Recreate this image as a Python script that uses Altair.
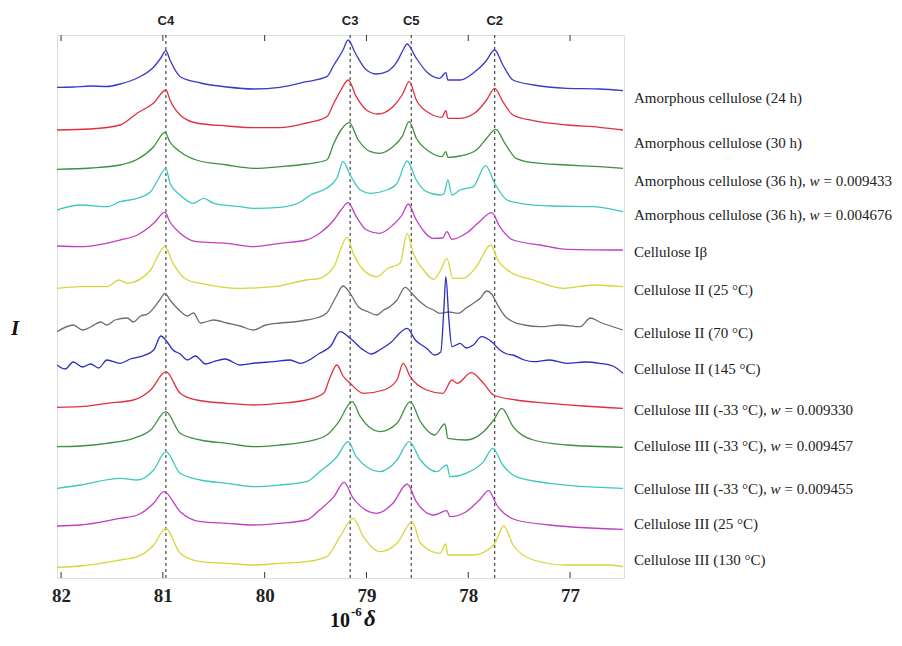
import altair as alt
import pandas as pd

# ---------------- data ----------------
SERIES = [
    "Amorphous cellulose (24 h)",
    "Amorphous cellulose (30 h)",
    "Amorphous cellulose (36 h), w = 0.009433",
    "Amorphous cellulose (36 h), w = 0.004676",
    "Cellulose Iβ",
    "Cellulose II (25 °C)",
    "Cellulose II (70 °C)",
    "Cellulose II (145 °C)",
    "Cellulose III (-33 °C), w = 0.009330",
    "Cellulose III (-33 °C), w = 0.009457",
    "Cellulose III (-33 °C), w = 0.009455",
    "Cellulose III (25 °C)",
    "Cellulose III (130 °C)",
]
LABEL_PREFIX = [
    "Amorphous cellulose (24 h)",
    "Amorphous cellulose (30 h)",
    "Amorphous cellulose (36 h), ",
    "Amorphous cellulose (36 h), ",
    "Cellulose Iβ",
    "Cellulose II (25 °C)",
    "Cellulose II (70 °C)",
    "Cellulose II (145 °C)",
    "Cellulose III (-33 °C), ",
    "Cellulose III (-33 °C), ",
    "Cellulose III (-33 °C), ",
    "Cellulose III (25 °C)",
    "Cellulose III (130 °C)",
]
W_VALUES = ["", "", "0.009433", "0.004676", "", "", "", "",
            "0.009330", "0.009457", "0.009455", "", ""]
LABEL_LEVEL = [480, 435, 397, 363, 326, 288, 245, 209, 168, 132, 89, 54, 18]

COLORS = ["#3a3ac8", "#e0303c", "#3f8f3f", "#3cc8c0", "#c23fc2", "#d6d63a",
          "#6e6e6e", "#2d2dc0", "#e0303c", "#3f8f3f", "#3cc8c0", "#c23fc2", "#d6d63a"]

PEAK_NAMES = ["C4", "C3", "C5", "C2"]
PEAK_PPM = [80.97, 79.16, 78.56, 77.74]
TICKS = [82, 81, 80, 79, 78, 77]

X1 = [82.04, 81.88, 81.71, 81.55, 81.42, 81.25, 81.09, 81.02, 80.97, 80.93, 80.83, 80.63, 80.37, 80.11,
      79.85, 79.59, 79.39, 79.32, 79.23, 79.18, 79.11, 79.00, 78.90, 78.80, 78.70, 78.64, 78.60, 78.52,
      78.41, 78.28, 78.22, 78.20, 78.08, 77.95, 77.83, 77.74, 77.66, 77.56, 77.36, 77.03, 76.71, 76.48]
Y1 = [490.7, 491.0, 492.0, 491.5, 494.0, 500.0, 511.0, 520.0, 527.3, 518.0, 501.3, 495.0, 491.0, 489.0,
      490.7, 496.3, 501.3, 513.0, 528.0, 538.0, 525.0, 508.0, 504.0, 506.3, 516.3, 528.0, 534.0, 521.3,
      506.3, 499.7, 505.3, 498.0, 498.0, 505.0, 516.3, 528.0, 513.0, 498.0, 493.0, 489.7, 489.0, 487.3]

X2 = [82.04, 81.71, 81.42, 81.25, 81.09, 80.97, 80.93, 80.83, 80.67, 80.37, 80.11, 79.85, 79.59, 79.39,
      79.32, 79.25, 79.18, 79.10, 79.00, 78.89, 78.74, 78.65, 78.58, 78.51, 78.38, 78.26, 78.22, 78.20,
      78.08, 77.92, 77.82, 77.74, 77.66, 77.56, 77.36, 77.03, 76.71, 76.48]
Y2 = [448.0, 449.0, 453.0, 465.0, 475.0, 488.0, 478.0, 463.0, 455.0, 452.0, 450.3, 450.3, 455.0, 461.3,
      475.0, 488.0, 498.0, 481.3, 468.0, 464.0, 471.3, 483.0, 496.3, 478.0, 464.7, 460.7, 467.3, 459.7,
      459.7, 466.3, 478.0, 489.7, 476.3, 463.0, 457.3, 453.0, 450.7, 448.0]

X3 = [82.04, 81.71, 81.42, 81.25, 81.09, 80.98, 80.93, 80.83, 80.67, 80.37, 80.11, 79.85, 79.59, 79.39,
      79.32, 79.25, 79.17, 79.08, 78.96, 78.87, 78.74, 78.65, 78.58, 78.51, 78.38, 78.26, 78.22, 78.20,
      78.08, 77.92, 77.82, 77.73, 77.64, 77.53, 77.36, 77.03, 76.71, 76.48]
Y3 = [408.7, 410.0, 413.0, 418.7, 431.3, 445.7, 436.0, 426.3, 418.0, 413.0, 409.7, 411.3, 414.0, 418.0,
      434.7, 448.0, 455.3, 438.0, 426.3, 424.7, 431.3, 441.3, 456.3, 439.7, 426.3, 421.3, 426.3, 420.7,
      422.0, 428.0, 439.7, 448.7, 434.7, 419.7, 415.3, 413.0, 411.3, 409.7]

X4 = [82.04, 81.81, 81.55, 81.42, 81.25, 81.12, 81.05, 80.97, 80.93, 80.83, 80.70, 80.60, 80.50, 80.24,
      80.11, 79.85, 79.65, 79.55, 79.39, 79.29, 79.23, 79.16, 79.06, 78.96, 78.80, 78.70, 78.60, 78.51,
      78.41, 78.28, 78.24, 78.20, 78.16, 78.08, 77.95, 77.83, 77.74, 77.62, 77.49, 77.17, 76.77, 76.48]
Y4 = [368.0, 373.0, 371.3, 376.3, 379.7, 386.3, 398.0, 409.7, 394.7, 383.0, 374.7, 379.7, 374.7, 371.3,
      369.7, 370.7, 376.0, 383.0, 390.0, 400.0, 416.3, 403.0, 388.0, 384.7, 388.0, 394.7, 417.0, 398.0,
      386.3, 383.0, 384.0, 398.0, 383.0, 388.0, 391.3, 412.3, 394.7, 378.0, 374.7, 372.0, 371.3, 366.3]

X5 = [82.04, 81.81, 81.42, 81.25, 81.09, 80.98, 80.93, 80.83, 80.67, 80.37, 80.11, 79.85, 79.59, 79.46,
      79.32, 79.25, 79.18, 79.10, 79.00, 78.87, 78.74, 78.65, 78.59, 78.51, 78.34, 78.25, 78.21, 78.16,
      78.02, 77.89, 77.77, 77.69, 77.56, 77.29, 77.03, 76.48]
Y5 = [332.0, 331.3, 338.0, 343.0, 354.7, 365.7, 356.0, 344.7, 336.3, 334.7, 331.3, 334.7, 338.0, 344.7,
      358.0, 368.0, 375.3, 361.3, 348.0, 344.7, 353.0, 363.0, 374.0, 358.0, 339.7, 340.0, 346.3, 338.7,
      344.7, 356.3, 365.3, 351.3, 338.0, 333.0, 328.7, 328.0]

X6 = [82.04, 81.81, 81.55, 81.43, 81.35, 81.12, 81.07, 80.98, 80.90, 80.76, 80.63, 80.24, 79.91, 79.59,
      79.46, 79.32, 79.19, 79.13, 79.03, 78.90, 78.79, 78.67, 78.60, 78.54, 78.44, 78.34, 78.27, 78.21,
      78.15, 78.05, 77.92, 77.78, 77.71, 77.59, 77.36, 77.07, 76.77, 76.48]
Y6 = [289.7, 291.3, 291.3, 298.0, 294.7, 308.0, 318.0, 331.3, 314.7, 298.0, 294.7, 289.7, 291.3, 298.0,
      299.7, 311.3, 340.7, 324.7, 308.0, 301.3, 309.7, 314.7, 344.7, 324.7, 308.0, 298.7, 308.0, 319.7,
      299.7, 299.7, 311.3, 333.0, 318.0, 306.3, 298.0, 289.7, 293.0, 291.3]

X7 = [82.04, 81.88, 81.79, 81.71, 81.61, 81.55, 81.47, 81.35, 81.29, 81.22, 81.15, 81.09, 81.03, 80.98,
      80.93, 80.88, 80.82, 80.76, 80.70, 80.63, 80.50, 80.37, 80.24, 80.11, 79.99, 79.85, 79.72, 79.59,
      79.49, 79.39, 79.30, 79.23, 79.16, 79.08, 78.98, 78.90, 78.83, 78.77, 78.70, 78.62, 78.54, 78.47,
      78.41, 78.34, 78.28, 78.19, 78.10, 78.02, 77.95, 77.88, 77.82, 77.77, 77.72, 77.64, 77.56, 77.45,
      77.29, 77.10, 76.90, 76.80, 76.71, 76.48]
Y7 = [246.3, 253.0, 248.0, 251.0, 256.0, 253.0, 258.0, 260.0, 256.0, 262.0, 264.0, 270.0, 278.0, 284.7,
      278.0, 272.0, 266.0, 262.0, 265.0, 255.0, 258.0, 255.0, 252.0, 248.0, 253.0, 255.0, 256.0, 258.0,
      260.0, 265.0, 281.0, 292.0, 284.7, 271.3, 266.0, 263.0, 268.0, 271.3, 278.0, 290.7, 283.0, 276.0,
      271.3, 268.0, 264.7, 266.0, 264.7, 270.0, 274.7, 280.0, 287.0, 284.0, 274.7, 262.0, 256.3, 253.0,
      251.3, 253.0, 251.3, 260.0, 256.0, 248.0]

X8 = [82.04, 81.96, 81.88, 81.79, 81.71, 81.63, 81.55, 81.42, 81.32, 81.22, 81.09, 81.02, 80.96, 80.90,
      80.83, 80.76, 80.68, 80.58, 80.50, 80.39, 80.24, 80.09, 79.91, 79.75, 79.65, 79.46, 79.35, 79.26,
      79.16, 79.03, 78.95, 78.87, 78.77, 78.60, 78.52, 78.41, 78.33, 78.27, 78.24, 78.22, 78.19, 78.16,
      78.08, 78.02, 77.95, 77.87, 77.77, 77.69, 77.62, 77.56, 77.45, 77.36, 77.20, 77.03, 76.85, 76.71,
      76.58, 76.48]
Y8 = [213.0, 209.0, 216.0, 211.0, 214.0, 210.0, 218.0, 214.7, 219.0, 221.3, 228.0, 242.0, 236.3, 228.0,
      224.0, 218.0, 222.0, 214.0, 216.3, 219.0, 213.0, 215.0, 216.3, 218.0, 214.7, 224.7, 232.0, 246.3,
      239.7, 228.0, 224.0, 228.0, 234.7, 249.7, 238.0, 229.7, 223.0, 226.0, 268.0, 301.3, 258.0, 231.3,
      234.7, 230.0, 233.0, 241.3, 236.3, 228.0, 224.0, 223.0, 218.0, 216.3, 218.0, 214.7, 216.0, 214.7,
      212.0, 204.7]

X9 = [82.04, 81.81, 81.55, 81.29, 81.12, 80.97, 80.83, 80.67, 80.37, 80.11, 79.85, 79.59, 79.42, 79.36,
      79.29, 79.23, 79.16, 79.03, 78.83, 78.70, 78.64, 78.57, 78.41, 78.25, 78.16, 78.11, 77.97, 77.85,
      77.75, 77.53, 77.20, 76.87, 76.48]
Y9 = [170.7, 171.3, 174.7, 178.0, 188.0, 206.3, 184.7, 178.0, 174.7, 173.0, 174.7, 178.0, 184.7, 200.0,
      213.0, 202.0, 194.7, 184.7, 188.0, 198.0, 214.7, 201.3, 188.0, 184.7, 198.0, 194.7, 205.3, 194.7,
      183.0, 178.0, 174.7, 172.0, 169.7]

X10 = [82.04, 81.81, 81.55, 81.29, 81.12, 80.97, 80.83, 80.63, 80.37, 80.11, 79.85, 79.59, 79.39, 79.28,
       79.14, 79.06, 78.87, 78.70, 78.57, 78.47, 78.33, 78.23, 78.20, 78.02, 77.85, 77.75, 77.67, 77.56,
       77.36, 77.03, 76.48]
Y10 = [131.3, 132.0, 134.7, 139.7, 148.0, 166.3, 144.7, 138.0, 134.7, 131.3, 133.0, 136.3, 143.0, 155.0,
       176.3, 161.3, 146.3, 154.7, 176.3, 156.3, 143.0, 154.0, 139.7, 138.0, 146.3, 158.0, 169.7, 151.3,
       138.0, 133.0, 130.7]

X11 = [82.04, 81.81, 81.42, 81.25, 81.09, 80.97, 80.83, 80.63, 80.37, 80.11, 79.85, 79.59, 79.46, 79.29,
       79.18, 79.10, 78.87, 78.70, 78.58, 78.47, 78.31, 78.21, 78.18, 78.02, 77.85, 77.76, 77.66, 77.53,
       77.20, 76.48]
Y11 = [89.7, 93.0, 99.7, 98.0, 108.0, 126.3, 104.7, 98.0, 94.7, 91.3, 93.0, 96.3, 106.3, 121.3,
       136.3, 121.3, 106.3, 118.0, 136.3, 118.0, 106.3, 113.0, 101.3, 104.7, 116.3, 129.7, 113.0, 101.3,
       94.7, 89.7]

X12 = [82.04, 81.81, 81.42, 81.25, 81.09, 80.99, 80.83, 80.63, 80.37, 80.11, 79.85, 79.59, 79.46, 79.32,
       79.22, 79.13, 78.90, 78.74, 78.60, 78.51, 78.34, 78.21, 78.18, 78.02, 77.89, 77.80, 77.72, 77.53,
       77.20, 76.48]
Y12 = [52.0, 53.0, 59.7, 63.0, 74.7, 86.3, 66.3, 56.3, 54.7, 53.0, 54.7, 58.0, 68.0, 81.3,
       95.7, 79.7, 64.7, 74.7, 94.0, 76.3, 63.0, 67.3, 61.3, 66.3, 78.0, 87.3, 73.0, 58.0,
       53.0, 48.7]

X13 = [82.04, 81.81, 81.42, 81.25, 81.09, 80.97, 80.83, 80.63, 80.37, 80.11, 79.85, 79.59, 79.39, 79.26,
       79.13, 79.03, 78.87, 78.70, 78.55, 78.47, 78.28, 78.22, 78.20, 77.95, 77.75, 77.65, 77.56, 77.36,
       77.03, 76.61, 76.48]
Y13 = [10.7, 12.0, 18.0, 21.3, 33.0, 49.7, 24.7, 16.3, 14.7, 13.0, 14.7, 16.3, 21.3, 41.3,
       59.7, 41.3, 26.3, 34.7, 56.3, 34.7, 24.7, 34.0, 23.0, 23.0, 33.0, 52.0, 33.0, 18.0,
       13.0, 13.0, 11.3]

XS = [X1, X2, X3, X4, X5, X6, X7, X8, X9, X10, X11, X12, X13]
YS = [Y1, Y2, Y3, Y4, Y5, Y6, Y7, Y8, Y9, Y10, Y11, Y12, Y13]

# ---------------- tables ----------------
rows = []
for name, xs, ys in zip(SERIES, XS, YS):
    for j, (x, y) in enumerate(zip(xs, ys)):
        rows.append({"series": name, "ppm": x, "I": y, "idx": j})
df = pd.DataFrame(rows)

W, H = 567, 543
FS = 15
LX = W + 10  # left edge of the right-hand labels (px, plot coords)
W_OFFSET = {"Amorphous cellulose (36 h), ": 175.5, "Cellulose III (-33 °C), ": 136.5}

lab_rows = []
for pre, wv, lv in zip(LABEL_PREFIX, W_VALUES, LABEL_LEVEL):
    off = W_OFFSET.get(pre, 0)
    lab_rows.append({"pre": pre, "w": "w" if wv else "", "eq": ("= " + wv) if wv else "",
                     "lv": lv, "x0": LX, "xw": LX + off, "xe": LX + off + 14})
labs = pd.DataFrame(lab_rows)

peaks = pd.DataFrame({"name": PEAK_NAMES, "ppm": PEAK_PPM})
ticks = pd.DataFrame({"ppm": TICKS})

xscale = alt.Scale(domain=[76.47, 82.04], reverse=True, nice=False, zero=False)
yscale = alt.Scale(domain=[0, H], nice=False, zero=False)
SERIF = "Liberation Serif"

lines = alt.Chart(df).mark_line(strokeWidth=1.3, clip=True, interpolate="monotone").encode(
    x=alt.X("ppm:Q", scale=xscale,
            axis=alt.Axis(values=TICKS, ticks=False, tickSize=0, domain=False, grid=False,
                          labelFont=SERIF, labelFontSize=19, labelFontWeight="bold",
                          labelColor="#222", labelBaseline="alphabetic", labelPadding=23,
                          format="d", title=None)),
    y=alt.Y("I:Q", scale=yscale, axis=None),
    color=alt.Color("series:N", scale=alt.Scale(domain=SERIES, range=COLORS), legend=None),
    order=alt.Order("idx:Q"),
)

dashes = alt.Chart(peaks).mark_rule(color="#222", strokeWidth=1, strokeDash=[3, 3]).encode(
    x=alt.X("ppm:Q", scale=xscale, axis=None)
)

peak_txt = alt.Chart(peaks).mark_text(font="Liberation Sans", fontWeight="bold", fontSize=13,
                                      color="#222", baseline="alphabetic").encode(
    x=alt.X("ppm:Q", scale=xscale, axis=None), y=alt.value(-10), text="name:N"
)

tick_top = alt.Chart(ticks).mark_rule(color="#333", strokeWidth=1).encode(
    x=alt.X("ppm:Q", scale=xscale, axis=None), y=alt.value(0), y2=alt.value(6)
)
tick_bot = alt.Chart(ticks).mark_rule(color="#333", strokeWidth=1).encode(
    x=alt.X("ppm:Q", scale=xscale, axis=None), y=alt.value(H - 6), y2=alt.value(H)
)

lab_pre = alt.Chart(labs).mark_text(font=SERIF, fontSize=FS, color="#222", align="left",
                                    baseline="middle").encode(
    x=alt.X("x0:Q", scale=None), y=alt.Y("lv:Q", scale=yscale, axis=None), text="pre:N"
)
lab_w = alt.Chart(labs).mark_text(font=SERIF, fontSize=FS, fontStyle="italic", color="#222",
                                  align="left", baseline="middle").encode(
    x=alt.X("xw:Q", scale=None), y=alt.Y("lv:Q", scale=yscale, axis=None), text="w:N"
)
lab_eq = alt.Chart(labs).mark_text(font=SERIF, fontSize=FS, color="#222", align="left",
                                   baseline="middle").encode(
    x=alt.X("xe:Q", scale=None), y=alt.Y("lv:Q", scale=yscale, axis=None), text="eq:N"
)

ylab = alt.Chart(pd.DataFrame({"t": ["I"]})).mark_text(
    font=SERIF, fontSize=21, fontWeight="bold", fontStyle="italic", color="#111",
    align="center", baseline="alphabetic").encode(
    x=alt.value(-42), y=alt.value(300), text="t:N")

xt_rows = pd.DataFrame({"t": ["10", "-6", "δ"], "px": [273, 294, 307], "py": [596, 584, 596]})
xt_a = alt.Chart(xt_rows.iloc[[0]]).mark_text(font=SERIF, fontSize=20, fontWeight="bold",
                                              color="#111", align="left", baseline="bottom").encode(
    x=alt.X("px:Q", scale=None), y=alt.Y("py:Q", scale=None), text="t:N")
xt_b = alt.Chart(xt_rows.iloc[[1]]).mark_text(font=SERIF, fontSize=13, fontWeight="bold",
                                              color="#111", align="left", baseline="bottom").encode(
    x=alt.X("px:Q", scale=None), y=alt.Y("py:Q", scale=None), text="t:N")
xt_c = alt.Chart(xt_rows.iloc[[2]]).mark_text(font=SERIF, fontSize=23, fontWeight="bold",
                                              fontStyle="italic", color="#111", align="left",
                                              baseline="bottom").encode(
    x=alt.X("px:Q", scale=None), y=alt.Y("py:Q", scale=None), text="t:N")

chart = alt.layer(
    dashes, lines, tick_top, tick_bot, peak_txt, lab_pre, lab_w, lab_eq, ylab, xt_a, xt_b, xt_c
).resolve_scale(x="independent", y="independent").properties(
    width=W, height=H,
    padding={"left": 49, "top": 27, "right": 270, "bottom": 54},
    autosize=alt.AutoSizeParams(type="none"),
).configure_view(stroke="#333", strokeWidth=1.2).configure(background="white")

chart.save("out.html", embed_options={"renderer": "svg", "actions": False})
